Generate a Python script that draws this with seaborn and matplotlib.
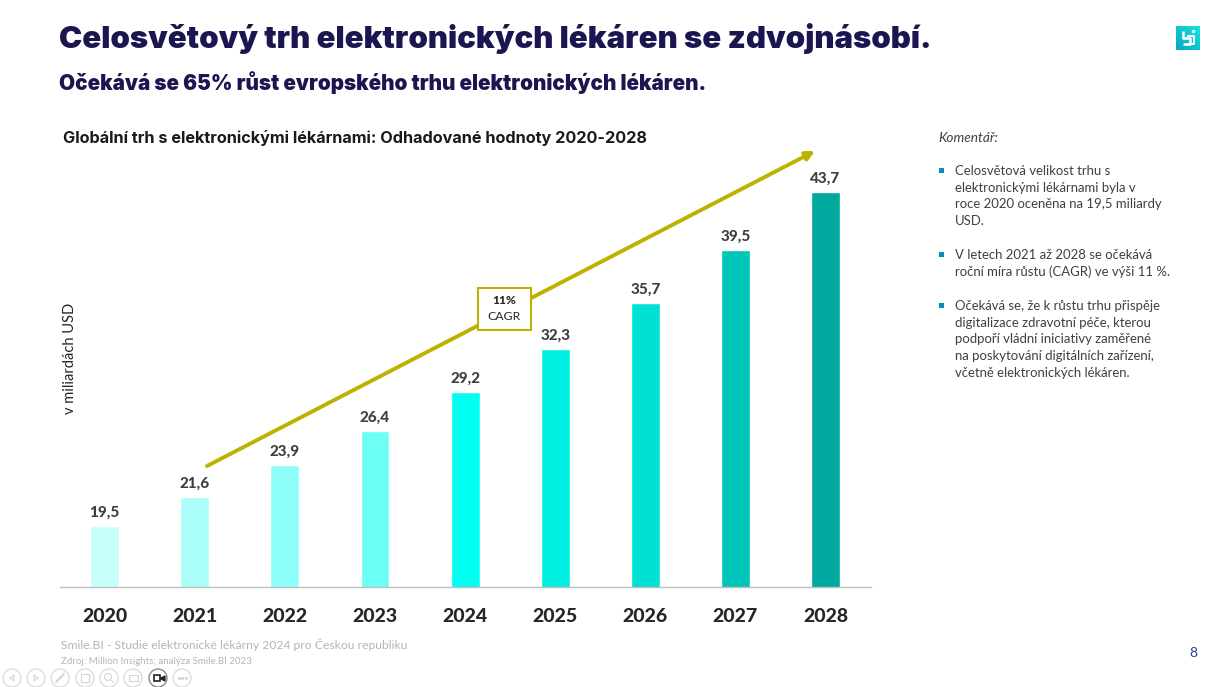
import numpy as np
import pandas as pd
import matplotlib
matplotlib.use("Agg")
import matplotlib.pyplot as plt
from matplotlib.patches import Rectangle, Circle, FancyArrowPatch
import seaborn as sns

years = ["2020", "2021", "2022", "2023", "2024", "2025", "2026", "2027", "2028"]
values = [19.5, 21.6, 23.9, 26.4, 29.2, 32.3, 35.7, 39.5, 43.7]
labels = ["19,5", "21,6", "23,9", "26,4", "29,2", "32,3", "35,7", "39,5", "43,7"]
colors = ["#C6FFFB", "#ABFFFA", "#8DFFF8", "#6CFFF5", "#00FFF0", "#00EFE1", "#00E0D3", "#00C5B9", "#00A99D"]

title = "Celosvětový trh elektronických lékáren se zdvojnásobí."
subtitle = "Očekává se 65% růst evropského trhu elektronických lékáren."
chart_title = "Globální trh s elektronickými lékárnami: Odhadované hodnoty 2020-2028"
y_label = "v miliardách USD"
comment_head = "Komentář:"
comments = [
    ["Celosvětová velikost trhu s", "elektronickými lékárnami byla v", "roce 2020 oceněna na 19,5 miliardy", "USD."],
    ["V letech 2021 až 2028 se očekává", "roční míra růstu (CAGR) ve výši 11 %."],
    ["Očekává se, že k růstu trhu přispěje", "digitalizace zdravotní péče, kterou", "podpoří vládní iniciativy zaměřené", "na poskytování digitálních zařízení,", "včetně elektronických lékáren."],
]
footer1 = "Smile.BI - Studie elektronické lékárny 2024 pro Českou republiku"
footer2 = "Zdroj: Million Insights; analýza Smile.BI 2023"

W, H = 1220, 687
BODY = "Lato"
HEAD = "Inter"
NAVY = "#1B1650"
DARK = "#3F3F3F"
Y_BASE = 15.05   # the reference's value axis does not start at zero
PX_PER_UNIT = 13.77

sns.set_theme(style="white")
plt.rcParams["font.family"] = [BODY, "DejaVu Sans"]

fig = plt.figure(figsize=(W / 100, H / 100), dpi=100, facecolor="white")
def X(p): return p / W
def Y(p): return 1 - p / H

ax = fig.add_axes([X(59.6), Y(587), (871 - 60) / W, (587 - 137) / H])
df = pd.DataFrame({"year": years, "value": values})
sns.barplot(data=df, x="year", y="value", hue="year", palette=colors, legend=False,
            width=0.32, saturation=1, ax=ax)
ax.set_xlim(-0.5, 8.5)
ax.set_ylim(Y_BASE, Y_BASE + 450 / PX_PER_UNIT)
for s in ["top", "left", "right"]:
    ax.spines[s].set_visible(False)
ax.spines["bottom"].set_color("#BFBFBF")
ax.spines["bottom"].set_linewidth(1)
ax.set_yticks([])
ax.set_xlabel("")
ax.set_ylabel("")
ax.tick_params(axis="x", length=0, pad=15)
for t in ax.get_xticklabels():
    t.set_fontsize(14)
    t.set_fontweight("black")
    t.set_color("#262626")
for i, (v, l) in enumerate(zip(values, labels)):
    ax.annotate(l, (i, v), xytext=(0, 4.5), textcoords="offset points", ha="center", va="bottom",
                fontsize=11, fontweight="black", color=DARK)

ov = fig.add_axes([0, 0, 1, 1], facecolor="none")
ov.set_xlim(0, W)
ov.set_ylim(H, 0)
ov.axis("off")

ov.text(59, 38.5, title, fontsize=22.4, fontweight="black", color=NAVY, va="center", family=HEAD)
ov.text(59, 82.5, subtitle, fontsize=14.9, fontweight="black", color=NAVY, va="center", family=HEAD)
ov.text(63, 138.5, chart_title, fontsize=11.7, fontweight="bold", color="#1A1A1A", va="center", family=HEAD)
ov.text(70, 358, y_label, fontsize=10.5, color="#262626", rotation=90, ha="center", va="center")

OLIVE = "#BDB200"
ov.add_patch(FancyArrowPatch((207, 466), (815, 151), arrowstyle="-|>", mutation_scale=13,
                             linewidth=2.8, color=OLIVE, shrinkA=0, shrinkB=0, zorder=3))
ov.add_patch(Rectangle((478, 288), 53, 42, facecolor="white", edgecolor=OLIVE, linewidth=1.5, zorder=4))
ov.text(504.5, 301, "11%", fontsize=8.6, fontweight="black", color="#262626", ha="center", va="center", zorder=5)
ov.text(504.5, 316, "CAGR", fontsize=8.8, color="#262626", ha="center", va="center", zorder=5)

ov.text(938, 138, comment_head, fontsize=9.8, style="italic", color="#404040", va="center")
y_starts = [171, 255, 306]
for lines, y0 in zip(comments, y_starts):
    ov.add_patch(Rectangle((939, y0 - 3), 4.5, 4.5, facecolor="#0A8FB8", edgecolor="none"))
    for k, line in enumerate(lines):
        ov.text(955, y0 + k * 16.7, line, fontsize=9.45, color="#404040", va="center")

grad = np.linspace(0, 1, 24)[None, :] + np.linspace(1, 0, 24)[:, None]
ov.imshow(grad, extent=(1176, 1200, 50, 26),
          cmap=matplotlib.colors.LinearSegmentedColormap.from_list("l", ["#0AA6C4", "#10E6DC"]),
          aspect="auto", zorder=2)
ov.set_xlim(0, W)
ov.set_ylim(H, 0)
ov.plot([1183, 1183, 1190, 1190, 1183], [31, 37.5, 37.5, 44, 44], color="white", lw=1.8, zorder=3, solid_capstyle="butt")
ov.plot([1187, 1194, 1194, 1187], [36, 36, 44, 44], color="white", lw=1.4, zorder=3, solid_capstyle="butt")
ov.plot([1193], [30.5], "s", color="white", ms=2, zorder=3)

ov.text(61, 645, footer1, fontsize=8.7, color="#B5B5B5", va="center")
ov.text(61, 661, footer2, fontsize=7.0, color="#B5B5B5", va="center")
ov.text(1193, 653, "8", fontsize=10, color="#2A3F9D", ha="center", va="center")

for i, cx in enumerate([12, 36, 60, 85, 109, 133, 158, 182]):
    active = i == 6
    ov.add_patch(Circle((cx, 678), 9, facecolor="white", edgecolor="#8A8A8A" if active else "#DDDDDD", linewidth=1))
ov.add_patch(Rectangle((153.5, 675), 6.5, 6, facecolor="none", edgecolor="#222222", linewidth=1.2))
ov.plot([161.5], [678], marker="<", color="#222222", ms=3.5)
ov.plot([10, 14, 14, 10], [678, 675, 681, 678], color="#D5D5D5", lw=0.8)
ov.plot([38, 34, 34, 38], [678, 675, 681, 678], color="#D5D5D5", lw=0.8)
ov.plot([56, 64], [682, 674], color="#D5D5D5", lw=1.5)
ov.add_patch(Rectangle((81, 674), 8, 8, facecolor="none", edgecolor="#D5D5D5", linewidth=0.8))
ov.add_patch(Circle((108, 677), 3.5, facecolor="none", edgecolor="#D5D5D5", linewidth=0.8))
ov.plot([110.5, 113.5], [679.5, 682.5], color="#D5D5D5", lw=0.8)
ov.add_patch(Rectangle((128.5, 675), 9, 6, facecolor="none", edgecolor="#D5D5D5", linewidth=0.8))
ov.plot([178.5, 182, 185.5], [678, 678, 678], ls="none", marker="o", ms=1.2, color="#D5D5D5")

fig.savefig("out.png", dpi=100, facecolor="white")
